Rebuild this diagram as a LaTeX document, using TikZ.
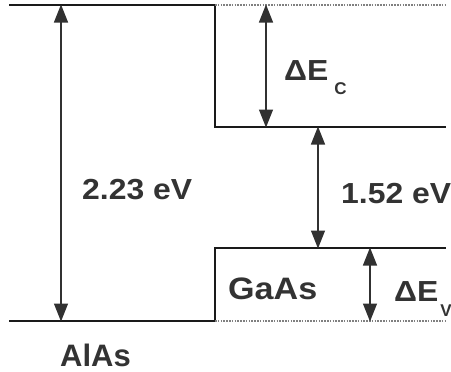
\documentclass[tikz,border=0pt]{standalone}
\usepackage{fontspec}
\setmainfont{Liberation Sans}
\usetikzlibrary{arrows.meta}
\definecolor{txt}{HTML}{333333}
\definecolor{ln}{HTML}{1A1A1A}
\newcommand{\widen}[1]{\scalebox{1.1}[1]{#1}}
\begin{document}
\begin{tikzpicture}[x=1pt,y=-1pt,
  band/.style={draw=ln,line width=2pt,line cap=rect},
  refline/.style={draw=gray,line width=1.6pt,dash pattern=on 1.6pt off 1.2pt},
  dim/.style={draw=ln!90,line width=1.4pt,{Triangle[width=14pt,length=18pt]}-{Triangle[width=14pt,length=18pt]},shorten <=-0.5pt,shorten >=-0.5pt},
  lbl/.style={inner sep=0pt,anchor=base west,text=txt,font=\fontsize{29}{31}\selectfont\bfseries},
  big/.style={lbl,font=\fontsize{31}{33}\selectfont\bfseries}]
\useasboundingbox (0,0) rectangle (451,372);
% corner coordinates
\coordinate (a1) at (10,5);
\coordinate (a2) at (215,5);
\coordinate (a3) at (10,321);
\coordinate (a4) at (215,321);
\coordinate (c1) at (215,127);
\coordinate (c2) at (445,127);
\coordinate (v1) at (215,248);
\coordinate (v2) at (445,248);
\coordinate (d1) at (445,5);
\coordinate (d2) at (445,321);
% arrow ends
\coordinate (L1) at (61,5);  \coordinate (L2) at (61,321);
\coordinate (C1) at (266,5); \coordinate (C2) at (266,127);
\coordinate (G1) at (318,127); \coordinate (G2) at (318,248);
\coordinate (V1) at (370,248); \coordinate (V2) at (370,321);
% band edges
\draw[band] (a1) -- (a2) -- (c1) -- (c2);
\draw[band] (a3) -- (a4) -- (v1) -- (v2);
\draw[refline] (a2) -- (d1);
\draw[refline] (a4) -- (d2);
% arrows
\draw[dim] (L1) -- (L2);
\draw[dim] (C1) -- (C2);
\draw[dim] (G1) -- (G2);
\draw[dim] (V1) -- (V2);
% labels
\node[lbl] (gA) at (82,199) {\widen{2.23 eV}};
\node[lbl] (gG) at (341,204) {\widen{1.52 eV}};
\node[big] (nG) at (228,299) {\widen{GaAs}};
\node[big] (nA) at (60,366) {AlAs};
\node[lbl] (dc) at (284,80) {\widen{ΔE}\hspace{6pt}\raisebox{-14pt}{\fontsize{17}{17}\selectfont C}};
\node[lbl] (dv) at (394,301) {\widen{ΔE}\hspace{2pt}\raisebox{-15pt}{\fontsize{17}{17}\selectfont V}};
\end{tikzpicture}
\end{document}
